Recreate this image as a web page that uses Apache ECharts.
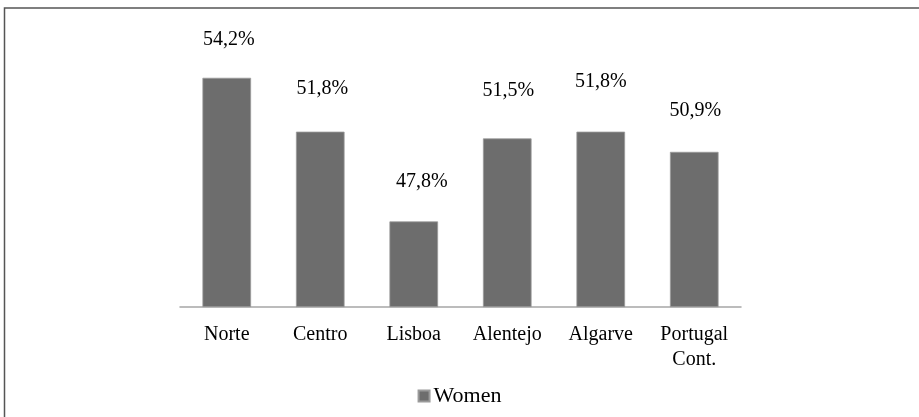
<!DOCTYPE html>
<html>
<head>
<meta charset="utf-8">
<script src="https://cdn.jsdelivr.net/npm/echarts@6/dist/echarts.min.js"></script>
<style>
  html, body { margin: 0; padding: 0; background: #fff; }
  #chart { width: 919px; height: 417px; }
</style>
</head>
<body>
<div id="chart"></div>
<script>
const regions = ["Norte", "Centro", "Lisboa", "Alentejo", "Algarve", "Portugal\nCont."];
const women = [54.2, 51.8, 47.8, 51.5, 51.8, 50.9];
const seriesName = "Women";

// labels in the source sit a bit unevenly above the bars
const labelShift = [[2, 5], [2, 0], [8, 3], [1, -5], [0, -7], [1, 2]];

const chart = echarts.init(document.getElementById("chart"));
const font = "'Liberation Serif', 'DejaVu Serif', serif";

chart.setOption({
  animation: false,
  backgroundColor: "#fff",
  textStyle: { fontFamily: font },
  graphic: [{
    type: "rect",
    shape: { x: 4.5, y: 8, width: 930, height: 430 },
    style: { fill: "none", stroke: "#555", lineWidth: 1.5 },
    silent: true
  }],
  grid: { left: 180, right: 178, top: 37.4, bottom: 110.3, containLabel: false },
  legend: {
    data: [seriesName],
    bottom: 5,
    left: "center",
    icon: "rect",
    itemWidth: 11,
    itemHeight: 11,
    itemGap: 4,
    textStyle: { fontFamily: font, fontSize: 22, color: "#000", padding: [0, 0, 0, -1] }
  },
  xAxis: {
    type: "category",
    data: regions,
    axisLine: { show: true, lineStyle: { color: "#a6a6a6", width: 1.5 } },
    axisTick: { show: false },
    axisLabel: { color: "#000", fontSize: 20, fontFamily: font, margin: 16, lineHeight: 25, interval: 0 }
  },
  yAxis: {
    type: "value",
    min: 44,
    max: 56,
    show: false,
    splitLine: { show: false }
  },
  series: [{
    name: seriesName,
    type: "bar",
    barWidth: "52%",
    itemStyle: { color: "#6d6d6d", borderColor: "#9a9a9a", borderWidth: 0.8 },
    data: women.map((v, i) => ({
      value: v,
      label: { offset: labelShift[i] }
    })),
    label: {
      show: true,
      position: "top",
      distance: 33,
      color: "#000",
      fontSize: 20,
      fontFamily: font,
      formatter: (p) => p.value.toFixed(1).replace(".", ",") + "%"
    }
  }]
});
</script>
</body>
</html>
